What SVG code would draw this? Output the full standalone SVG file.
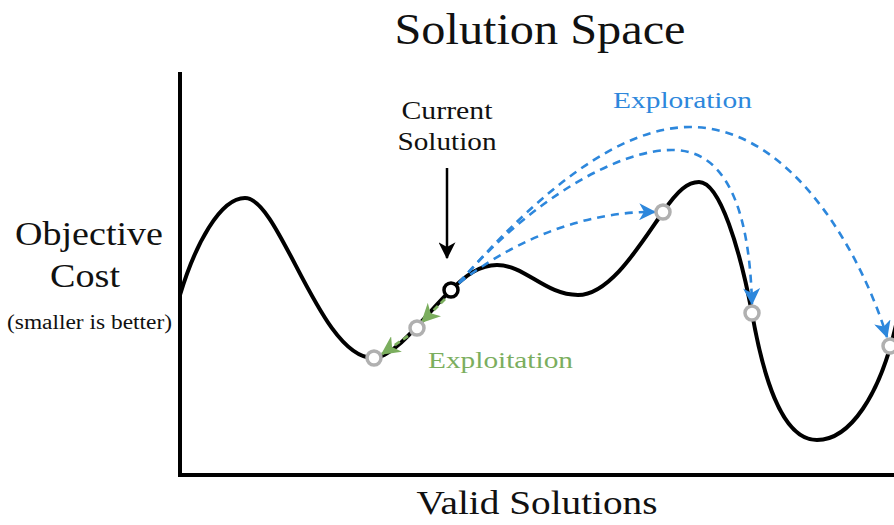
<svg xmlns="http://www.w3.org/2000/svg" width="894" height="525" viewBox="0 0 894 525">
<defs>
<style>
.t{font-family:"Liberation Serif","DejaVu Serif",serif;fill:#111;text-anchor:middle}
.axis{stroke:#000;stroke-width:4;fill:none}
.curve{stroke:#000;stroke-width:4;fill:none;stroke-linejoin:round}
.pt{fill:#fff;stroke:#b0b0b0;stroke-width:3.5}
.cur{fill:#fff;stroke:#000;stroke-width:3.5}
.explore{stroke:#2d87dc;stroke-width:2.6;fill:none;stroke-dasharray:8 6}
.exploit{stroke:#7bae5e;stroke-width:2.8;fill:none;stroke-dasharray:6 4}
</style>
<marker id="ab" viewBox="0 0 14 14" refX="13" refY="7" markerWidth="17" markerHeight="17" markerUnits="userSpaceOnUse" orient="auto">
<path d="M0,0 L14,7 L0,14 L4,7 z" fill="#2d87dc"/>
</marker>
<marker id="ag" viewBox="0 0 14 14" refX="13" refY="7" markerWidth="19" markerHeight="19" markerUnits="userSpaceOnUse" orient="auto">
<path d="M0,0 L14,7 L0,14 L4,7 z" fill="#7bae5e"/>
</marker>
<marker id="ak" viewBox="0 0 14 14" refX="13" refY="7" markerWidth="17" markerHeight="17" markerUnits="userSpaceOnUse" orient="auto">
<path d="M0,0 L14,7 L0,14 L4,7 z" fill="#000"/>
</marker>
</defs>
<rect width="894" height="525" fill="#fff"/>
<text class="t" x="540" y="44" font-size="45" textLength="291" lengthAdjust="spacingAndGlyphs">Solution Space</text>
<text class="t" x="537" y="514" font-size="33" textLength="241" lengthAdjust="spacingAndGlyphs">Valid Solutions</text>
<g id="ylabel">
<text class="t" x="89" y="245" font-size="33" textLength="148" lengthAdjust="spacingAndGlyphs">Objective</text>
<text class="t" x="85" y="287" font-size="33" textLength="70" lengthAdjust="spacingAndGlyphs">Cost</text>
<text class="t" x="89.5" y="329" font-size="20" textLength="165" lengthAdjust="spacingAndGlyphs">(smaller is better)</text>
</g>
<g id="axes">
<path class="axis" d="M180,72 V475 H894"/>
</g>
<g id="landscape">
<path class="curve" d="M180,295 C195,245 220,198 245,198 C280,198 320,358 373,358 C395,358 425,315 451,290 C466,275 480,265 497,265 C525,265 545,295 578,295 C610,295 640,245 663,212 C678,190 688,182 699,182 C720,182 740,250 752,313 C762,370 780,440 817,440 C850,440 880,395 896,325"/>
</g>
<g id="connectors">
<path d="M447,168 V258" stroke="#000" stroke-width="2.5" fill="none" marker-end="url(#ak)"/>
<path class="explore" d="M459,283 C520,236 590,211 655,212" marker-end="url(#ab)"/>
<path class="explore" d="M459,283 C530,200 620,148 675,150 C735,152 750,230 752,304" marker-end="url(#ab)"/>
<path class="explore" d="M459,283 C540,190 620,127 690,127 C790,127 860,250 887,337" marker-end="url(#ab)"/>
<path class="exploit" d="M445,299 L422,322" marker-end="url(#ag)"/>
<path class="exploit" d="M408,336 L382,354" marker-end="url(#ag)"/>
</g>
<g id="current-solution">
<circle class="cur" cx="451" cy="290" r="7"/>
<text class="t" x="447" y="119" font-size="25" textLength="91" lengthAdjust="spacingAndGlyphs">Current</text>
<text class="t" x="447" y="150" font-size="25" textLength="99" lengthAdjust="spacingAndGlyphs">Solution</text>
</g>
<g id="points">
<circle class="pt" cx="417" cy="328" r="7"/>
<circle class="pt" cx="374" cy="358" r="7"/>
<circle class="pt" cx="663" cy="212" r="7"/>
<circle class="pt" cx="752" cy="313" r="7"/>
<circle class="pt" cx="890" cy="346" r="7"/>
</g>
<g id="labels">
<text class="t" x="682.5" y="108" font-size="24" style="fill:#2d87dc" textLength="139" lengthAdjust="spacingAndGlyphs">Exploration</text>
<text class="t" x="500.5" y="368" font-size="24" style="fill:#7bae5e" textLength="145" lengthAdjust="spacingAndGlyphs">Exploitation</text>
</g>
</svg>
